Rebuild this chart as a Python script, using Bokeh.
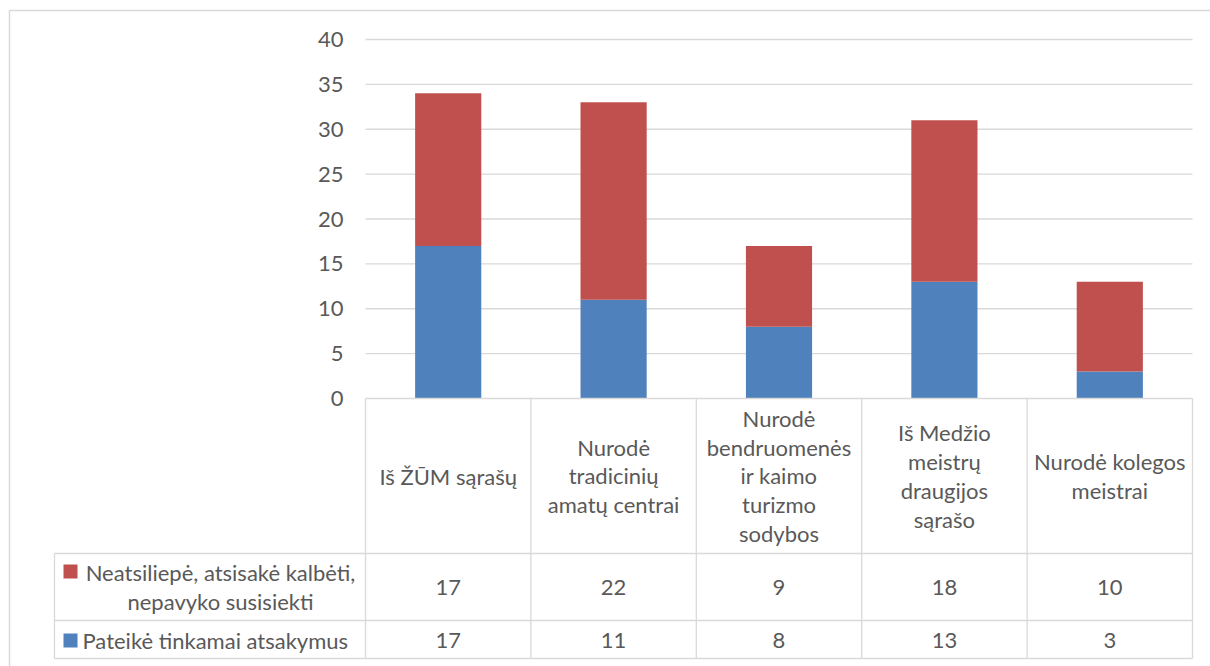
import numpy as np
from bokeh.plotting import figure
from bokeh.models import Range1d
from bokeh.core.properties import value
from bokeh.embed import file_html
from bokeh.resources import INLINE

# ---- data ----
categories = [
    "Iš ŽŪM sąrašų",
    "Nurodė\ntradicinių\namatų centrai",
    "Nurodė\nbendruomenės\nir kaimo\nturizmo\nsodybos",
    "Iš Medžio\nmeistrų\ndraugijos\nsąrašo",
    "Nurodė kolegos\nmeistrai",
]
series_answered = "Pateikė tinkamai atsakymus"
series_declined = "Neatsiliepė, atsisakė kalbėti,\nnepavyko susisiekti"
answered = [17, 11, 8, 13, 3]
declined = [17, 22, 9, 18, 10]
y_ticks = [0, 5, 10, 15, 20, 25, 30, 35, 40]

# ---- layout constants (screen px) ----
PX_L, PX_R, PX_T, PX_B = 0, 1210, 0, 666
AX_L, AX_R = 365, 1192          # plot area left / right
Y0_PX, Y40_PX = 398, 39         # y of value 0 and value 40
HDR_B, ROW1_B, ROW2_B = 553, 620, 658
LEG_L = 54
n = len(categories)
ux = (AX_R - AX_L) / n
uy = (Y0_PX - Y40_PX) / 40.0

FONT = value("Lato")
FS = "22px"
LH = 1.07
TC = "#595959"
GRID = "#d9d9d9"
BLUE = "#4f81bd"
RED = "#c0504d"

p = figure(width=PX_R - PX_L, height=PX_B - PX_T,
           x_range=Range1d((PX_L - AX_L) / ux, (PX_R - AX_L) / ux),
           y_range=Range1d(-(PX_B - Y0_PX) / uy, (Y0_PX - PX_T) / uy),
           x_axis_location=None, y_axis_location=None,
           output_backend="svg", toolbar_location=None, min_border=0)
p.grid.visible = False
p.outline_line_color = None
p.background_fill_color = "white"
p.extra_x_ranges = {"px": Range1d(PX_L, PX_R)}
p.extra_y_ranges = {"px": Range1d(PX_B, PX_T)}

# outer chart border
p.segment(x0=[9, 9], y0=[10, 10], x1=[PX_R, 9], y1=[10, PX_B],
          x_range_name="px", y_range_name="px", line_color=GRID, line_width=1.5)

# gridlines
gt = [t for t in y_ticks if t > 0]
p.segment(x0=[0] * len(gt), x1=[n] * len(gt), y0=gt, y1=gt, line_color=GRID, line_width=1.3)

# bars
xs = np.arange(n) + 0.5
a = np.array(answered)
d = np.array(declined)
p.vbar(x=xs, width=0.4, bottom=0, top=a, fill_color=BLUE, line_color=None)
p.vbar(x=xs, width=0.4, bottom=a, top=a + d, fill_color=RED, line_color=None)

# y tick labels
p.text(x=[343] * len(y_ticks), y=y_ticks, text=[str(t) for t in y_ticks],
       x_range_name="px", text_align="right", text_baseline="middle",
       text_font=FONT, text_font_size=FS, text_color=TC)

# data table lines
bounds = list(range(n + 1))
p.segment(x0=bounds, x1=bounds, y0=[Y0_PX] * (n + 1), y1=[ROW2_B] * (n + 1),
          x_range_name="default", y_range_name="px", line_color=GRID, line_width=1.3)
p.segment(x0=[AX_L], x1=[AX_R], y0=[Y0_PX], y1=[Y0_PX],
          x_range_name="px", y_range_name="px", line_color=GRID, line_width=1.3)
p.segment(x0=[LEG_L] * 3 + [LEG_L], x1=[AX_R] * 3 + [LEG_L],
          y0=[HDR_B, ROW1_B, ROW2_B, HDR_B], y1=[HDR_B, ROW1_B, ROW2_B, ROW2_B],
          x_range_name="px", y_range_name="px", line_color=GRID, line_width=1.3)

# header texts
p.text(x=xs, y=[(Y0_PX + HDR_B) / 2] * n, text=categories,
       y_range_name="px", text_align="center", text_baseline="middle",
       text_line_height=LH,
       text_font=FONT, text_font_size=FS, text_color=TC)

# values
r1 = (HDR_B + ROW1_B) / 2
r2 = (ROW1_B + ROW2_B) / 2 + 1
p.text(x=xs, y=[r1] * n, text=[str(v) for v in declined], y_range_name="px",
       text_align="center", text_baseline="middle",
       text_font=FONT, text_font_size=FS, text_color=TC)
p.text(x=xs, y=[r2] * n, text=[str(v) for v in answered], y_range_name="px",
       text_align="center", text_baseline="middle",
       text_font=FONT, text_font_size=FS, text_color=TC)

# legend cells
p.rect(x=[70, 70], y=[571, 640], width=14, height=14, fill_color=[RED, BLUE],
       line_color=None, x_range_name="px", y_range_name="px")
p.text(x=[220], y=[r1], text=[series_declined], x_range_name="px", y_range_name="px",
       text_align="center", text_baseline="middle", text_line_height=LH,
       text_font=FONT, text_font_size=FS, text_color=TC)
p.text(x=[82], y=[r2], text=[series_answered], x_range_name="px", y_range_name="px",
       text_align="left", text_baseline="middle",
       text_font=FONT, text_font_size=FS, text_color=TC)

open("out.html", "w").write(file_html(p, INLINE))
